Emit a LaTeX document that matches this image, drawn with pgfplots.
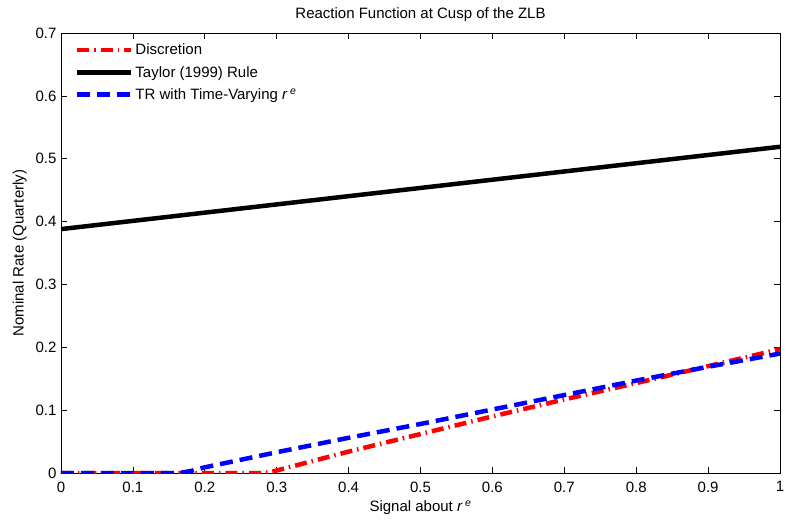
\documentclass[border=0pt]{standalone}
\usepackage{fontspec}
\setmainfont{Liberation Sans}
\usepackage{pgfplots}
\pgfplotsset{compat=1.18}
\newcommand{\re}{\textit{r}\,\textsuperscript{\textit{e}}}
\begin{document}
\begin{tikzpicture}[x=1pt,y=1pt]
\path[use as bounding box] (-61,-50) rectangle (727,473);
\begin{axis}[
  at={(0,0)}, anchor=south west,
  scale only axis, width=719pt, height=440pt,
  xmin=0, xmax=1, ymin=0, ymax=0.7,
  xtick={0,0.1,...,1}, ytick={0,0.1,...,0.7},
  tick align=inside, major tick length=6pt,
  xtick pos=both, ytick pos=both,
  tick style={black, line width=0.6pt},
  axis line style={line width=0.8pt},
  font=\fontsize{15}{17}\selectfont,
  ticklabel style={font=\fontsize{15}{17}\selectfont},
  /pgf/number format/assume math mode=true,
  /pgf/number format/fixed,
  xticklabel style={yshift=-5pt},
  yticklabel style={xshift=-1pt},
  title={Reaction Function at Cusp of the ZLB},
  title style={yshift=2pt},
  xlabel={Signal about \re},
  ylabel={Nominal Rate (Quarterly)},
  xlabel style={yshift=-2pt},
  ylabel style={yshift=2pt},
  legend style={at={(0.015,0.985)}, anchor=north west, draw=none, fill=none,
    font=\fontsize{15}{17}\selectfont, row sep=6pt,
    /tikz/every even column/.append style={column sep=2pt}},
  legend cell align=left,
  legend image code/.code={\draw[#1] (0pt,0pt) -- (54pt,0pt);},
]
\addplot[red, line width=4.5pt, dash pattern=on 12pt off 5pt on 1.5pt off 5pt] coordinates {
(0,0) (0.28,0) (0.29,0.001) (0.30,0.004) (0.32,0.010) (0.35,0.019) (0.40,0.034) (0.50,0.062) (0.60,0.090) (0.70,0.117) (0.80,0.143) (0.90,0.170) (1.00,0.197)};
\addlegendentry{Discretion}
\addplot[black, line width=4.5pt] coordinates {(0,0.388) (1,0.519)};
\addlegendentry{Taylor (1999) Rule}
\addplot[blue, line width=4.5pt, dash pattern=on 13pt off 7pt] coordinates {
(0,0) (0.16,0) (0.17,0.001) (0.18,0.003) (0.20,0.009) (0.25,0.021) (0.30,0.033) (0.40,0.056) (0.50,0.078) (0.60,0.101) (0.70,0.124) (0.80,0.147) (0.90,0.169) (1.00,0.190)};
\addlegendentry{TR with Time-Varying \re}
\end{axis}
\end{tikzpicture}
\end{document}
